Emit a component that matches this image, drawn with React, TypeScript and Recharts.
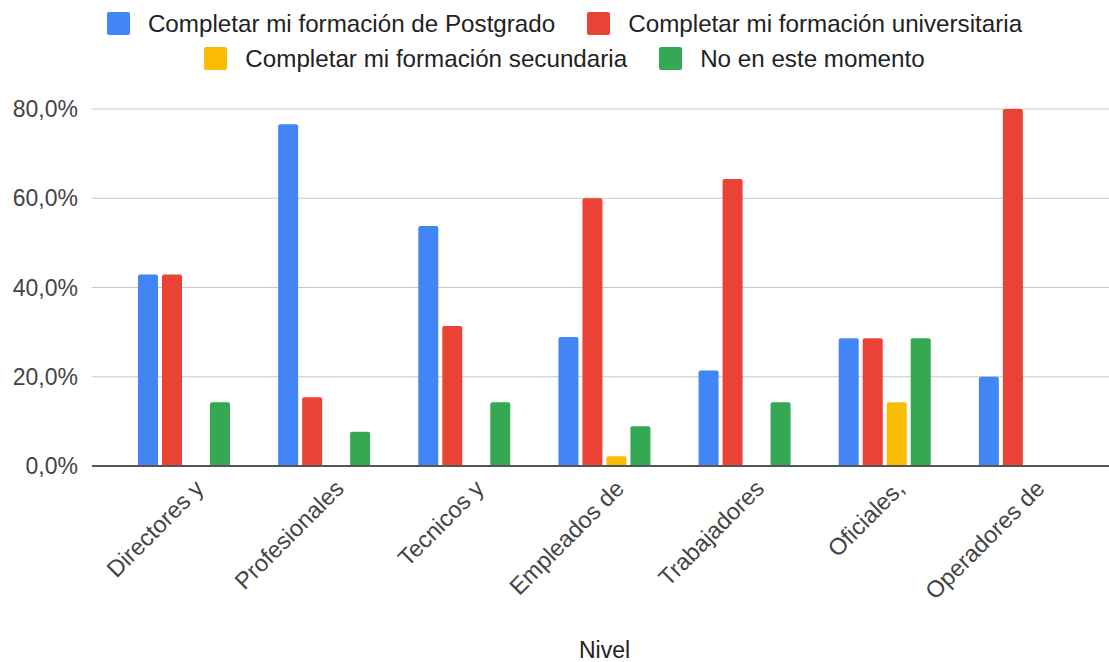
import React from 'react';
import { BarChart, Bar, XAxis, YAxis, CartesianGrid, Legend } from 'recharts';

const categories = ['Directores y', 'Profesionales', 'Tecnicos y', 'Empleados de', 'Trabajadores', 'Oficiales,', 'Operadores de'];
const postgrado = [42.9, 76.6, 53.8, 28.9, 21.4, 28.6, 20.0];
const universitaria = [42.9, 15.4, 31.4, 60.0, 64.3, 28.6, 80.0];
const secundaria = [0, 0, 0, 2.2, 0, 14.3, 0];
const noMomento = [14.3, 7.7, 14.3, 8.9, 14.3, 28.6, 0];
const yTicks = [0, 20, 40, 60, 80];

const seriesNames = [
  'Completar mi formación de Postgrado',
  'Completar mi formación universitaria',
  'Completar mi formación secundaria',
  'No en este momento',
];
const colors = ['#4285F4', '#EA4335', '#FBBC04', '#34A853'];
const keys = ['postgrado', 'universitaria', 'secundaria', 'noMomento'];

const data = categories.map((c, i) => ({
  nivel: c,
  postgrado: postgrado[i],
  universitaria: universitaria[i],
  secundaria: secundaria[i],
  noMomento: noMomento[i],
}));

const fmt = (v: number) => v.toFixed(1).replace('.', ',') + '%';

const XTick = (props: any) => {
  const { x, y, payload } = props;
  return (
    <g transform={`translate(${x + 21},${y + 24})`}>
      <text textAnchor="end" transform="rotate(-45)" fontSize={23.5} fill="#444">
        {payload.value}
      </text>
    </g>
  );
};

const LegendItem = ({ i }: { i: number }) => (
  <div style={{ display: 'flex', alignItems: 'center', margin: '0 16px' }}>
    <div style={{ width: 23, height: 23, background: colors[i], borderRadius: 2, marginRight: 18 }} />
    <span style={{ fontSize: 24.2, color: '#222', whiteSpace: 'nowrap' }}>{seriesNames[i]}</span>
  </div>
);

const LegendContent = () => (
  <div style={{ height: 80, width: 1109, paddingTop: 6, boxSizing: 'border-box', paddingLeft: 20 }}>
    <div style={{ display: 'flex', justifyContent: 'center', height: 35 }}>
      <LegendItem i={0} />
      <LegendItem i={1} />
    </div>
    <div style={{ display: 'flex', justifyContent: 'center', height: 35 }}>
      <LegendItem i={2} />
      <LegendItem i={3} />
    </div>
  </div>
);

export default function App() {
  return (
    <div style={{ position: 'absolute', left: 0, top: 0, width: 1109, height: 662, background: '#fff', fontFamily: '"Liberation Sans", Arial, sans-serif' }}>
      <BarChart
        width={1109}
        height={662}
        data={data}
        margin={{ top: 29, right: 0, left: 0, bottom: 0 }}
        barSize={20}
        barGap={4}
      >
        <Legend verticalAlign="top" content={<LegendContent />} wrapperStyle={{ top: 0, left: 0, width: 1109, height: 80 }} />
        <CartesianGrid vertical={false} stroke="#c8c8c8" />
        <XAxis
          dataKey="nivel"
          height={196}
          padding={{ left: 22, right: 14 }}
          tickSize={0}
          tickMargin={0}
          tickLine={false}
          interval={0}
          axisLine={{ stroke: '#555', strokeWidth: 2 }}
          tick={<XTick />}
          label={{ value: 'Nivel', position: 'insideBottom', offset: 4, dx: 4, fontSize: 23, fill: '#222' }}
        />
        <YAxis
          width={92}
          domain={[0, 80]}
          ticks={yTicks}
          tickFormatter={fmt}
          axisLine={false}
          tickLine={false}
          tickSize={0}
          tickMargin={14}
          tick={{ fontSize: 23, fill: '#444' }}
        />
        {keys.map((k, i) => (
          <Bar key={k} dataKey={k} name={seriesNames[i]} fill={colors[i]} radius={[2, 2, 0, 0]} isAnimationActive={false} />
        ))}
      </BarChart>
    </div>
  );
}
